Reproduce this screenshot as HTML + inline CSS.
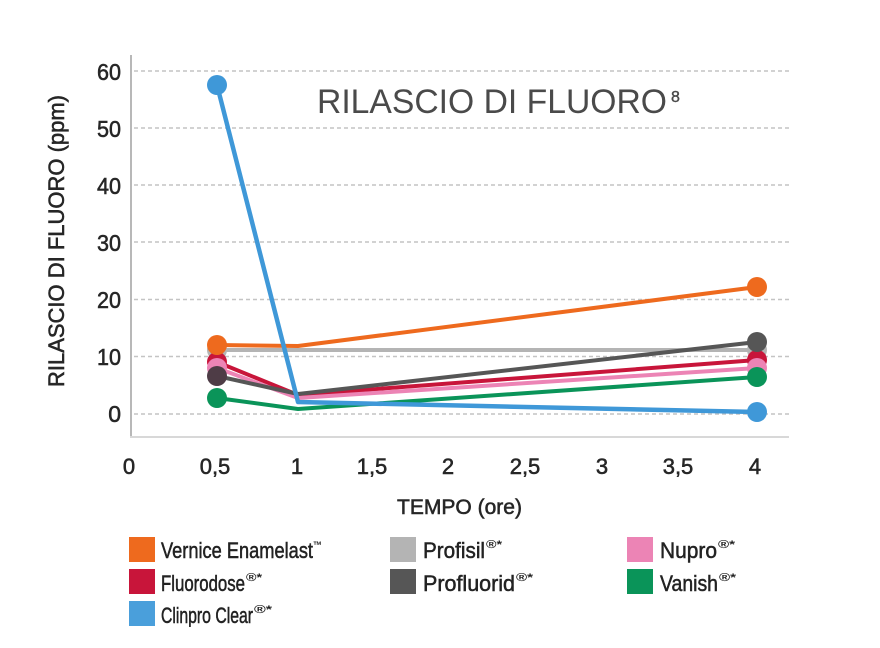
<!DOCTYPE html>
<html>
<head>
<meta charset="utf-8">
<style>
  html,body{margin:0;padding:0;background:#fff;}
  svg{display:block;}
  text{font-family:"Liberation Sans",sans-serif;}
</style>
</head>
<body>
<svg width="880" height="648" viewBox="0 0 880 648" xmlns="http://www.w3.org/2000/svg">
  <rect width="880" height="648" fill="#fff"/>

  <!-- gridlines -->
  <g stroke="#c4c4c4" stroke-width="1.5" stroke-dasharray="4 3">
    <line x1="134" y1="71" x2="789" y2="71"/>
    <line x1="134" y1="128" x2="789" y2="128"/>
    <line x1="134" y1="185" x2="789" y2="185"/>
    <line x1="134" y1="242" x2="789" y2="242"/>
    <line x1="134" y1="299.5" x2="789" y2="299.5"/>
    <line x1="134" y1="356.5" x2="789" y2="356.5"/>
    <line x1="134" y1="414" x2="789" y2="414"/>
  </g>

  <!-- axes -->
  <line x1="131" y1="55" x2="131" y2="438" stroke="#b8b8b8" stroke-width="2"/>
  <line x1="130" y1="437" x2="789" y2="437" stroke="#d8d8d8" stroke-width="2"/>

  <!-- title -->
  <text x="317" y="113" font-size="34" fill="#4a4a4a" textLength="350" lengthAdjust="spacingAndGlyphs">RILASCIO DI FLUORO</text>
  <text x="671" y="102" font-size="16" fill="#4a4a4a" stroke="#4a4a4a" stroke-width="0.4">8</text>

  <g fill="#262626" stroke="#262626" stroke-width="0.55">
  <!-- y tick labels -->
  <g font-size="23" text-anchor="end">
    <text x="121" y="80" textLength="24" lengthAdjust="spacingAndGlyphs">60</text>
    <text x="121" y="137" textLength="24" lengthAdjust="spacingAndGlyphs">50</text>
    <text x="121" y="194" textLength="24" lengthAdjust="spacingAndGlyphs">40</text>
    <text x="121" y="251" textLength="24" lengthAdjust="spacingAndGlyphs">30</text>
    <text x="121" y="308" textLength="24" lengthAdjust="spacingAndGlyphs">20</text>
    <text x="121" y="365" textLength="24" lengthAdjust="spacingAndGlyphs">10</text>
    <text x="121" y="422">0</text>
  </g>

  <!-- y axis title -->
  <text transform="translate(64,241) rotate(-90)" font-size="22" text-anchor="middle" textLength="292" lengthAdjust="spacingAndGlyphs">RILASCIO DI FLUORO (ppm)</text>

  <!-- x tick labels -->
  <g font-size="22" text-anchor="middle">
    <text x="129" y="474">0</text>
    <text x="215" y="474">0,5</text>
    <text x="297" y="474">1</text>
    <text x="372" y="474">1,5</text>
    <text x="448" y="474">2</text>
    <text x="525" y="474">2,5</text>
    <text x="602" y="474">3</text>
    <text x="678" y="474">3,5</text>
    <text x="755" y="474">4</text>
  </g>
  <text x="459.5" y="514" font-size="21" text-anchor="middle" textLength="125" lengthAdjust="spacingAndGlyphs">TEMPO (ore)</text>
  </g>

  <!-- series -->
  <g stroke-width="4" fill="none" stroke-linejoin="round">
    <polyline points="217,350 298,350 757,350" stroke="#b4b4b4"/>
    <polyline points="217,362 298,395 757,360" stroke="#c8153a"/>
    <polyline points="217,368 298,398 757,368" stroke="#ec84b5"/>
    <polyline points="217,376 298,394 757,342" stroke="#565656"/>
    <polyline points="217,398 298,409 757,377" stroke="#0a9459"/>
    <polyline points="217,345 298,346 757,287" stroke="#ee6a1e"/>
    <polyline points="217,85 298,402 757,412" stroke="#3f98d8" stroke-width="4.5"/>
  </g>
  <g>
    <circle cx="217" cy="350" r="10" fill="#b4b4b4"/>
    <circle cx="757" cy="350" r="10" fill="#b4b4b4"/>
    <circle cx="217" cy="362" r="10" fill="#c8153a"/>
    <circle cx="757" cy="360" r="10" fill="#c8153a"/>
    <circle cx="217" cy="368" r="10" fill="#ec84b5"/>
    <circle cx="757" cy="368" r="10" fill="#ec84b5"/>
    <circle cx="217" cy="376" r="10" fill="#4e3c46"/>
    <circle cx="757" cy="342" r="10" fill="#565656"/>
    <circle cx="217" cy="398" r="10" fill="#0a9459"/>
    <circle cx="757" cy="377" r="10" fill="#0a9459"/>
    <circle cx="217" cy="345" r="10" fill="#ee6a1e"/>
    <circle cx="757" cy="287" r="10" fill="#ee6a1e"/>
    <circle cx="217" cy="85" r="10" fill="#3f98d8"/>
    <circle cx="757" cy="412" r="10" fill="#3f98d8"/>
  </g>

  <!-- legend -->
  <defs>
    <clipPath id="lc"><rect x="0" y="520" width="880" height="107"/></clipPath>
  </defs>
  <g clip-path="url(#lc)">
    <rect x="129" y="537" width="26" height="25" fill="#ee6a1e"/>
    <rect x="129" y="569" width="26" height="25" fill="#c8153a"/>
    <rect x="129" y="601" width="26" height="25" fill="#4a9fdb"/>
    <rect x="390" y="537" width="26" height="25" fill="#b4b4b4"/>
    <rect x="390" y="569" width="26" height="25" fill="#565656"/>
    <rect x="627" y="537" width="26" height="25" fill="#ec84b5"/>
    <rect x="627" y="569" width="26" height="25" fill="#0a9459"/>

    <g font-size="22" fill="#222" stroke="#222" stroke-width="0.5">
      <text x="161" y="558" textLength="152" lengthAdjust="spacingAndGlyphs">Vernice Enamelast</text>
      <text x="161" y="591" textLength="84" lengthAdjust="spacingAndGlyphs">Fluorodose</text>
      <text x="161" y="623" textLength="92" lengthAdjust="spacingAndGlyphs">Clinpro Clear</text>
      <text x="423" y="558" textLength="62" lengthAdjust="spacingAndGlyphs">Profisil</text>
      <text x="423" y="591" textLength="92" lengthAdjust="spacingAndGlyphs">Profluorid</text>
      <text x="660" y="558" textLength="57" lengthAdjust="spacingAndGlyphs">Nupro</text>
      <text x="660" y="591" textLength="58" lengthAdjust="spacingAndGlyphs">Vanish</text>
    </g>
    <g font-size="11" font-weight="bold" fill="#222">
      <text x="313" y="549" textLength="9" lengthAdjust="spacingAndGlyphs">™</text>
      <text x="246" y="581" textLength="16" lengthAdjust="spacingAndGlyphs">®*</text>
      <text x="254" y="613" textLength="18" lengthAdjust="spacingAndGlyphs">®*</text>
      <text x="486" y="548" textLength="16" lengthAdjust="spacingAndGlyphs">®*</text>
      <text x="516" y="581" textLength="17" lengthAdjust="spacingAndGlyphs">®*</text>
      <text x="718" y="548" textLength="17" lengthAdjust="spacingAndGlyphs">®*</text>
      <text x="719" y="581" textLength="17" lengthAdjust="spacingAndGlyphs">®*</text>
    </g>
  </g>
</svg>
</body>
</html>
